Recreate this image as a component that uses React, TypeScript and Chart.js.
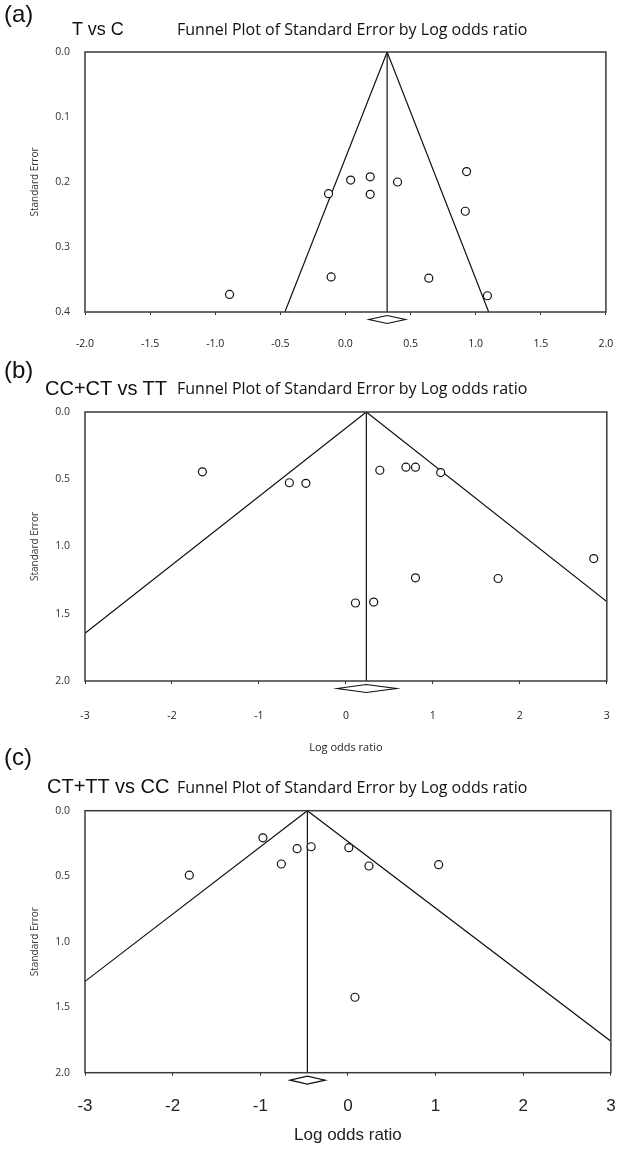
import React, { useEffect, useRef } from "react";
import { Chart, registerables } from "chart.js";
Chart.register(...registerables);

// ---------- Panel (a): T vs C ----------
const aLogOR = [0.04, 0.19, 0.40, 0.93, -0.13, 0.19, 0.92, -0.11, 0.64, -0.89, 1.09];
const aSE = [0.197, 0.192, 0.200, 0.184, 0.218, 0.219, 0.245, 0.346, 0.348, 0.373, 0.375];
const aPooled = 0.32;
const aPooledCI = [0.18, 0.46];
const aFunnelX = [-0.465, 0.32, 1.10];
const aFunnelY = [0.4, 0.0, 0.4];

// ---------- Panel (b): CC+CT vs TT ----------
const bLogOR = [-1.65, -0.65, -0.46, 0.39, 0.69, 0.80, 1.09, 2.85, 0.80, 1.75, 0.11, 0.32];
const bSE = [0.445, 0.526, 0.530, 0.433, 0.410, 0.410, 0.450, 1.090, 1.233, 1.238, 1.420, 1.413];
const bPooled = 0.235;
const bPooledCI = [-0.10, 0.58];
const bFunnelX = [-3, 0.235, 3];
const bFunnelY = [1.645, 0.0, 1.41];

// ---------- Panel (c): CT+TT vs CC ----------
const cLogOR = [-0.97, -0.58, -0.42, 0.01, -0.76, 0.24, 1.035, -1.81, 0.08];
const cSE = [0.207, 0.290, 0.275, 0.282, 0.407, 0.422, 0.412, 0.492, 1.424];
const cPooled = -0.463;
const cPooledCI = [-0.66, -0.26];
const cFunnelX = [-3, -0.463, 3];
const cFunnelY = [1.303, 0.0, 1.76];

const panelTitle = "Funnel Plot of Standard Error by Log odds ratio";
const yTitle = "Standard Error";
const xTitle = "Log odds ratio";

type PanelProps = {
  top: number;
  height: number;
  padTop: number;
  xHeight: number;
  xMin: number;
  xMax: number;
  xStep: number;
  xDec: number;
  yMax: number;
  yStep: number;
  xs: number[];
  ys: number[];
  fx: number[];
  fy: number[];
  pooled: number;
  ci: number[];
  xTickFont: { family: string; size: number };
  xTickPad: number;
  xTitleCfg?: { font: { family: string; size: number }; padBottom: number };
};

function Panel(p: PanelProps) {
  const ref = useRef<HTMLCanvasElement | null>(null);
  useEffect(() => {
    if (!ref.current) return;
    const frame = {
      id: "frame",
      afterDatasetsDraw(chart: any) {
        const { ctx, chartArea: a } = chart;
        ctx.save();
        ctx.strokeStyle = "#3a3a3a";
        ctx.lineWidth = 1.5;
        ctx.strokeRect(a.left, a.top, a.right - a.left, a.bottom - a.top);
        ctx.restore();
      },
    };
    const diamond = {
      id: "diamond",
      afterDraw(chart: any) {
        const { ctx, chartArea: a, scales } = chart;
        const x = scales.x;
        const y0 = a.bottom + 7.5;
        const h = 4;
        ctx.save();
        ctx.beginPath();
        ctx.moveTo(x.getPixelForValue(p.ci[0]), y0);
        ctx.lineTo(x.getPixelForValue(p.pooled), y0 - h);
        ctx.lineTo(x.getPixelForValue(p.ci[1]), y0);
        ctx.lineTo(x.getPixelForValue(p.pooled), y0 + h);
        ctx.closePath();
        ctx.fillStyle = "#fff";
        ctx.fill();
        ctx.lineWidth = 1.2;
        ctx.strokeStyle = "#111";
        ctx.stroke();
        ctx.restore();
      },
    };
    const pts = p.xs.map((x, i) => ({ x, y: p.ys[i] }));
    const funnel = p.fx.map((x, i) => ({ x, y: p.fy[i] }));
    const center = [
      { x: p.pooled, y: 0 },
      { x: p.pooled, y: p.yMax },
    ];
    const chart = new Chart(ref.current, {
      type: "scatter",
      data: {
        datasets: [
          {
            data: pts,
            pointRadius: 4,
            pointBorderWidth: 1.2,
            pointBorderColor: "#111",
            pointBackgroundColor: "#fff",
            showLine: false,
          } as any,
          {
            data: funnel,
            showLine: true,
            pointRadius: 0,
            borderColor: "#111",
            borderWidth: 1.2,
          } as any,
          {
            data: center,
            showLine: true,
            pointRadius: 0,
            borderColor: "#111",
            borderWidth: 1.2,
          } as any,
        ],
      },
      options: {
        animation: false,
        responsive: false,
        events: [],
        layout: { padding: { top: p.padTop, left: 0, right: 11, bottom: 0 } },
        plugins: { legend: { display: false }, tooltip: { enabled: false } },
        scales: {
          x: {
            type: "linear",
            position: "bottom",
            min: p.xMin,
            max: p.xMax,
            border: { display: false },
            grid: { drawOnChartArea: false, drawTicks: true, tickLength: 3, color: "#333" },
            ticks: {
              stepSize: p.xStep,
              autoSkip: false,
              maxRotation: 0,
              padding: p.xTickPad,
              color: "#222",
              font: p.xTickFont,
              callback: (v: any) => Number(v).toFixed(p.xDec),
            },
            title: p.xTitleCfg
              ? {
                  display: true,
                  text: xTitle,
                  color: "#222",
                  font: p.xTitleCfg.font,
                  padding: { top: 0, bottom: p.xTitleCfg.padBottom },
                }
              : { display: false },
            afterFit: (s: any) => {
              s.height = p.xHeight;
            },
          } as any,
          y: {
            type: "linear",
            position: "left",
            reverse: true,
            min: 0,
            max: p.yMax,
            border: { display: false },
            grid: { display: false },
            ticks: {
              stepSize: p.yStep,
              padding: 7,
              color: "#333",
              font: { family: "Open Sans", size: 10.5 },
              callback: (v: any) => Number(v).toFixed(1),
            },
            title: {
              display: true,
              text: yTitle,
              color: "#333",
              font: { family: "Open Sans", size: 10 },
              padding: { top: 29, bottom: 0 },
            },
            afterFit: (s: any) => {
              s.width = 85;
            },
          } as any,
        },
      },
      plugins: [frame, diamond],
    });
    return () => chart.destroy();
  }, []);
  return (
    <canvas
      ref={ref}
      width={636}
      height={p.height}
      style={{ position: "absolute", left: 0, top: p.top, width: 636, height: p.height }}
    />
  );
}

const txt = (
  s: string,
  left: number,
  top: number,
  size: number,
  family: string,
  extra: React.CSSProperties = {}
) => (
  <div
    style={{
      position: "absolute",
      left,
      top,
      fontSize: size,
      lineHeight: `${size}px`,
      fontFamily: family,
      whiteSpace: "nowrap",
      color: "#111",
      transformOrigin: "left top",
      ...extra,
    }}
  >
    {s}
  </div>
);

export default function App() {
  const arial = "'Liberation Sans', Arial, sans-serif";
  const open = "'Open Sans', sans-serif";
  return (
    <div
      style={{
        position: "absolute",
        left: 0,
        top: 0,
        width: 636,
        height: 1150,
        background: "#fff",
        overflow: "hidden",
      }}
    >
      <Panel
        top={0}
        height={360}
        padTop={52}
        xHeight={48}
        xMin={-2}
        xMax={2}
        xStep={0.5}
        xDec={1}
        yMax={0.4}
        yStep={0.1}
        xs={aLogOR}
        ys={aSE}
        fx={aFunnelX}
        fy={aFunnelY}
        pooled={aPooled}
        ci={aPooledCI}
        xTickFont={{ family: "Open Sans", size: 10.5 }}
        xTickPad={22.7}
      />
      <Panel
        top={360}
        height={410}
        padTop={52}
        xHeight={89}
        xMin={-3}
        xMax={3}
        xStep={1}
        xDec={0}
        yMax={2}
        yStep={0.5}
        xs={bLogOR}
        ys={bSE}
        fx={bFunnelX}
        fy={bFunnelY}
        pooled={bPooled}
        ci={bPooledCI}
        xTickFont={{ family: "Open Sans", size: 10.5 }}
        xTickPad={26.2}
        xTitleCfg={{ font: { family: "Open Sans", size: 11 }, padBottom: 15.4 }}
      />
      <Panel
        top={770}
        height={380}
        padTop={40.7}
        xHeight={77.3}
        xMin={-3}
        xMax={3}
        xStep={1}
        xDec={0}
        yMax={2}
        yStep={0.5}
        xs={cLogOR}
        ys={cSE}
        fx={cFunnelX}
        fy={cFunnelY}
        pooled={cPooled}
        ci={cPooledCI}
        xTickFont={{ family: "Liberation Sans", size: 17 }}
        xTickPad={20.4}
        xTitleCfg={{ font: { family: "Liberation Sans", size: 17 }, padBottom: 4 }}
      />
      {txt("(a)", 4, 2, 24, arial)}
      {txt("T vs C", 72, 19.8, 18, arial)}
      {txt(panelTitle, 177, 20.8, 16, open)}
      {txt("(b)", 4, 358, 24, arial)}
      {txt("CC+CT vs TT", 45, 378.1, 20, arial)}
      {txt(panelTitle, 177, 379.8, 16, open)}
      {txt("(c)", 4, 745, 24, arial)}
      {txt("CT+TT vs CC", 47, 776.1, 20, arial)}
      {txt(panelTitle, 177, 778.8, 16, open)}
    </div>
  );
}
